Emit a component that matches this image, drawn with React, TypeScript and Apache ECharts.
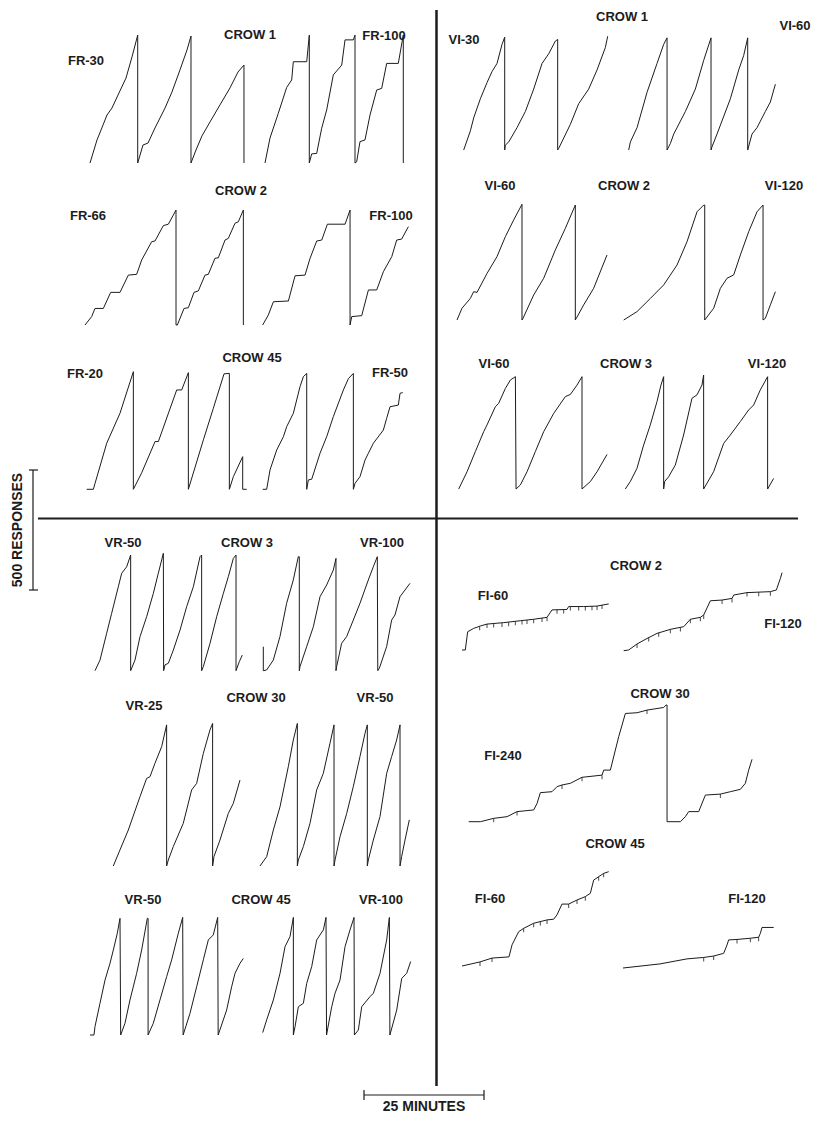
import React, { useEffect, useRef } from "react";
import * as echarts from "echarts";

// Cumulative records: [minutes, cumulative responses since last pen reset]
const crow1FR30: [number, number][] = [[0,0],[1.46,96],[2.71,158],[3.54,200],[4.58,229],[5.83,283],[7.5,354],[8.75,442],[9.94,533],[9.94,0],[11.04,75],[12.08,83],[13.54,146],[15.63,229],[17.08,296],[18.75,388],[20.21,471],[21.04,529],[21.04,0],[22.08,54],[23.33,113],[25,171],[27.08,242],[29.17,313],[30.83,379],[32.08,408],[32.08,0]];
const crow1FR100: [number, number][] = [[0,0],[1.04,104],[2.77,207],[4.52,315],[5.56,346],[5.9,422],[8.69,422],[9.23,533],[9.23,0],[9.73,38],[10.77,40],[11.81,145],[12.85,221],[14.23,367],[15.98,408],[16.67,513],[18.4,513],[18.75,533],[18.75,0],[19.1,5],[19.79,89],[20.83,96],[21.88,200],[23.27,304],[24.31,311],[25.35,415],[27.77,415],[28.81,533],[28.81,0]];
const crow2FR66: [number, number][] = [[0,0],[1.39,35],[2.08,69],[3.82,69],[5.35,136],[7.29,136],[9.03,208],[10.76,211],[11.81,271],[13.89,347],[14.58,350],[16.32,414],[17.36,420],[18.4,458],[18.96,479],[18.96,0],[19.24,0],[20.63,69],[21.53,72],[22.71,136],[23.61,142],[25,208],[25.69,211],[27.08,278],[27.78,280],[29.17,354],[29.86,361],[31.25,424],[31.94,430],[32.99,479],[32.99,0]];
const crow2FR100: [number, number][] = [[0,0],[1.18,42],[2.23,97],[5.35,100],[6.74,205],[8.82,208],[9.87,278],[11.25,350],[12.3,354],[13.48,420],[17.16,420],[18.2,479],[18.2,0],[18.55,35],[20.63,39],[22.02,146],[23.75,146],[25.14,222],[26.89,285],[27.92,354],[28.96,358],[30.35,410]];
const crow45FR20: [number, number][] = [[0,0],[1.39,0],[1.74,25],[4.17,192],[6.94,317],[9.72,490],[9.72,0],[11.46,69],[14.24,199],[14.93,199],[18.75,414],[19.79,414],[21.18,486],[21.18,0],[24.31,206],[26.39,338],[28.61,481],[29.72,483],[29.72,0],[30.56,53],[32.5,136],[32.5,0],[33.33,0]];
const crow45FR50: [number, number][] = [[0,0],[0.83,0],[1.53,81],[2.92,164],[4.31,219],[5,261],[6.39,317],[7.78,428],[8.47,469],[9.17,483],[9.17,0],[9.51,39],[10.21,42],[11.94,150],[13.33,219],[14.72,303],[16.81,414],[17.85,461],[18.89,483],[18.89,0],[19.24,25],[20.28,53],[21.32,122],[22.01,150],[23.06,192],[25.14,247],[25.83,296],[26.53,344],[28.26,351],[28.61,400],[29.17,403]];
const crow1VI30: [number, number][] = [[0,0],[1.39,83],[2.08,139],[3.47,222],[4.86,292],[5.9,340],[6.94,375],[7.99,458],[8.54,489],[8.54,0],[8.68,21],[9.38,35],[11.11,97],[12.85,167],[14.58,264],[16.32,375],[17.71,417],[19.1,472],[19.58,479],[19.58,0],[19.79,7],[22.22,111],[23.96,201],[26.04,264],[27.78,347],[29.51,444],[30,493]];
const crow1VI60: [number, number][] = [[0,0],[0.35,35],[1.74,97],[3.82,250],[5.9,375],[7.29,458],[7.99,486],[7.99,0],[8.68,28],[9.38,69],[11.81,167],[13.89,264],[15.63,389],[17.15,486],[17.15,0],[17.36,14],[18.4,69],[21.18,222],[22.92,347],[23.96,410],[24.79,486],[24.79,0],[25.69,69],[26.74,97],[28.47,167],[29.51,208],[30.56,285]];
const crow2VI60: [number, number][] = [[0,0],[1.04,49],[2.78,90],[3.47,118],[4.17,115],[6.25,194],[8.33,264],[10.07,347],[11.81,417],[13.54,482],[13.54,0],[13.75,7],[15.97,104],[18.06,174],[20.49,292],[22.57,382],[24.65,479],[24.65,0],[24.86,7],[26.39,63],[28.47,132],[31.25,271]];
const crow2VI120: [number, number][] = [[0,0],[2.78,35],[5.56,90],[8.33,146],[11.11,229],[13.19,326],[15.28,451],[16.67,479],[16.88,479],[16.88,0],[18.75,49],[20.14,132],[21.53,174],[22.92,188],[24.31,271],[26.04,368],[27.78,451],[29.03,479],[29.03,0],[29.51,7],[30.56,63],[31.6,118]];
const crow3VI60: [number, number][] = [[0,0],[1.74,72],[3.47,156],[5.21,239],[5.9,267],[7.64,343],[8.33,357],[9.72,419],[10.76,454],[11.81,468],[11.95,468],[11.95,0],[12.85,17],[14.24,72],[15.97,156],[17.71,239],[19.79,315],[22.22,385],[23.26,394],[24.65,433],[25.69,468],[25.69,0],[27.43,31],[28.82,72],[30.9,144]];
const crow3VI120: [number, number][] = [[0,0],[1.04,31],[2.43,86],[3.82,183],[5.21,267],[6.6,364],[7.43,433],[7.99,468],[7.99,0],[8.19,31],[9.03,51],[10.42,100],[12.15,225],[13.89,378],[14.93,392],[15.97,433],[16.32,475],[16.32,0],[18.4,72],[20.49,190],[21.88,225],[23.96,281],[25.69,329],[26.74,350],[28.13,413],[29.65,468],[29.65,0],[30.9,44]];
const crow3VR50: [number, number][] = [[0,0],[1.04,44],[2.43,156],[3.47,239],[4.86,350],[5.56,406],[6.6,433],[7.43,482],[7.43,0],[8.33,44],[9.38,142],[10.76,225],[12.15,322],[13.19,406],[14.24,489],[14.3,0],[14.58,24],[15.28,31],[16.32,86],[17.71,169],[19.1,267],[20.49,350],[21.88,475],[22.22,482],[22.22,0],[22.57,17],[23.96,114],[25.35,225],[26.74,322],[27.78,392],[28.82,468],[29.38,482],[29.38,0],[30.07,38],[30.69,65]];
const crow3VR100: [number, number][] = [[0,100],[0,0],[0.69,3],[2.08,44],[3.47,142],[4.86,281],[6.25,378],[7.29,475],[7.5,475],[7.5,0],[7.64,17],[9.03,100],[10.42,183],[11.81,308],[13.19,357],[14.58,419],[15.14,468],[15.14,0],[15.28,17],[16.32,114],[17.36,142],[18.75,211],[20.14,281],[21.88,378],[22.92,433],[23.75,475],[23.85,475],[23.85,0],[24.17,10],[25.69,100],[26.74,211],[27.43,232],[28.47,308],[29.51,336],[30.56,364]];
const crow30VR25: [number, number][] = [[0,0],[1.39,67],[3.13,150],[5.56,289],[6.94,365],[7.64,372],[8.68,428],[10.07,497],[11.11,588],[11.11,0],[11.46,25],[12.5,81],[14.58,178],[16.32,317],[17.36,344],[18.75,469],[20.14,567],[20.69,594],[20.69,0],[20.97,39],[22.22,108],[23.96,219],[25,261],[26.39,358]];
const crow30VR50: [number, number][] = [[0,0],[1.39,39],[2.78,150],[4.17,247],[5.9,414],[6.94,525],[7.78,594],[7.78,0],[7.99,25],[9.03,81],[10.42,178],[11.81,317],[13.19,386],[14.58,511],[15.42,588],[15.42,0],[15.63,25],[16.67,122],[18.06,219],[19.44,331],[20.83,456],[21.88,553],[22.36,588],[22.36,0],[22.57,25],[23.61,108],[25,206],[26.39,386],[27.43,456],[28.47,525],[29.17,588],[29.17,0],[29.51,39],[30.21,108],[31.11,192]];
const crow45VR50: [number, number][] = [[0,0],[0.83,0],[1.04,35],[2.08,132],[3.13,229],[4.17,299],[4.86,354],[5.69,424],[6.25,486],[6.39,486],[6.39,0],[7.29,49],[8.33,146],[9.72,257],[10.76,354],[11.94,486],[12.1,486],[12.1,0],[13.19,49],[14.58,146],[15.97,243],[17.01,313],[18.4,424],[19.31,490],[19.4,490],[19.4,0],[20.83,90],[22.22,201],[23.61,313],[24.65,396],[25.69,417],[26.6,490],[26.7,490],[26.7,0],[28.47,104],[29.51,201],[30.21,257],[31.25,299],[31.94,319]];
const crow45VR100: [number, number][] = [[0,10],[0.83,63],[2.22,146],[3.61,257],[4.65,368],[5.69,410],[6.39,490],[6.39,0],[6.74,35],[7.43,118],[8.47,132],[9.17,215],[10.21,285],[11.25,396],[12.64,438],[13.19,490],[13.3,490],[13.3,0],[14.38,118],[15.07,174],[16.11,229],[17.15,368],[18.19,438],[19.03,490],[19.1,490],[19.1,0],[19.93,21],[20.63,118],[22.36,160],[23.06,174],[24.44,257],[25.83,396],[26.39,490],[26.5,490],[26.5,0],[27.92,104],[28.96,236],[30,257],[30.83,306]];
const crow2FI60: [number, number][] = [[0,0],[0.69,0],[1.18,76],[2.43,90],[3.82,100],[5.21,108],[8.68,114],[12.15,122],[14.93,128],[17.71,136],[18.75,167],[21.88,169],[22.22,181],[25.35,181],[28.13,183],[30.56,192]];
const crow2FI120: [number, number][] = [[0,0],[1.04,3],[2.78,28],[4.86,51],[6.94,72],[9.72,89],[12.5,100],[13.89,131],[15.97,139],[16.67,149],[18.06,208],[20.49,211],[22.57,218],[22.92,232],[25.69,242],[30.56,246],[31.81,253],[32.64,301],[32.99,325]];
const crow30FI240: [number, number][] = [[0,0],[2.43,0],[5.21,14],[7.99,21],[10.07,42],[13.54,49],[14.24,76],[14.93,121],[17.36,125],[18.4,146],[19.44,153],[21.18,160],[23.61,185],[27.78,194],[28.13,215],[29.51,215],[31.25,354],[32.64,451],[35.07,454],[37.15,465],[40.63,476],[41.11,486],[41.32,486],[41.32,0],[44.1,0],[45.14,21],[45.83,42],[47.92,42],[49.31,111],[52.43,115],[54.51,125],[56.6,135],[57.64,160],[58.33,215],[59.03,260]];
const crow45FI60: [number, number][] = [[0,0],[3.75,17],[6.25,33],[9.79,38],[10.42,88],[11.81,143],[12.85,157],[14.93,178],[17.71,192],[19.1,195],[19.79,213],[20.83,258],[22.22,258],[23.96,275],[25.69,289],[26.74,303],[27.43,358],[28.47,372],[29.51,386],[30.56,393]];
const crow45FI120: [number, number][] = [[0,0],[7.71,17],[13.33,38],[16.81,44],[18.89,50],[20.97,61],[21.67,96],[22.01,117],[23.75,119],[26.53,124],[28.26,128],[28.61,144],[28.96,169],[31.39,169]];

// Reinforcement pips on the fixed-interval records: [minutes, responses]
const crow2FI60Pips: [number, number][] = [[3.68,99],[5.21,108],[6.6,110],[8.33,113],[9.72,116],[11.11,120],[12.5,123],[13.54,125],[14.93,128],[16.67,133],[17.71,136],[19.79,168],[21.18,169],[22.57,181],[24.31,181],[25.69,181],[27.08,182],[28.13,183],[29.17,187]];
const crow2FI120Pips: [number, number][] = [[2.78,28],[5.21,55],[7.29,75],[9.72,89],[11.81,97],[13.89,131],[15.97,139],[16.67,149],[20.49,211],[22.57,218],[25.69,242],[28.13,244],[30.56,246]];
const crow30FI240Pips: [number, number][] = [[5.21,14],[10.07,42],[19.44,153],[23.61,185],[27.78,194],[37.15,465],[52.43,115]];
const crow45FI60Pips: [number, number][] = [[3.75,17],[6.25,33],[12.85,157],[14.93,178],[16.32,185],[17.71,192],[22.22,258],[23.96,275],[25.69,289],[28.47,372],[29.51,386]];
const crow45FI120Pips: [number, number][] = [[16.81,44],[18.89,50],[23.75,119],[26.53,124],[28.26,128]];

// Layout: pixel origin (start, baseline) of each record and its time span in minutes
const records = [
  { data: crow1FR30, x0: 90, y0: 163, span: 35 },
  { data: crow1FR100, x0: 265, y0: 163, span: 35 },
  { data: crow2FR66, x0: 85, y0: 325, span: 35 },
  { data: crow2FR100, x0: 262.7, y0: 325, span: 35 },
  { data: crow45FR20, x0: 86.7, y0: 489.3, span: 35 },
  { data: crow45FR50, x0: 262.7, y0: 489.3, span: 35 },
  { data: crow1VI30, x0: 463.7, y0: 150, span: 35 },
  { data: crow1VI60, x0: 628.7, y0: 150, span: 35 },
  { data: crow2VI60, x0: 457, y0: 320, span: 35 },
  { data: crow2VI120, x0: 623.7, y0: 320, span: 35 },
  { data: crow3VI60, x0: 458.7, y0: 489, span: 35 },
  { data: crow3VI120, x0: 625.3, y0: 489, span: 35 },
  { data: crow3VR50, x0: 95, y0: 670.7, span: 35 },
  { data: crow3VR100, x0: 263.3, y0: 670.7, span: 35 },
  { data: crow30VR25, x0: 113.3, y0: 866, span: 35 },
  { data: crow30VR50, x0: 260, y0: 866, span: 35 },
  { data: crow45VR50, x0: 90, y0: 1035, span: 35 },
  { data: crow45VR100, x0: 262.7, y0: 1035, span: 35 },
  { data: crow2FI60, x0: 462, y0: 650, span: 35, pips: crow2FI60Pips },
  { data: crow2FI120, x0: 623.7, y0: 650.7, span: 35, pips: crow2FI120Pips },
  { data: crow30FI240, x0: 468.7, y0: 821.7, span: 60, pips: crow30FI240Pips },
  { data: crow45FI60, x0: 462, y0: 966, span: 35, pips: crow45FI60Pips },
  { data: crow45FI120, x0: 623, y0: 968, span: 35, pips: crow45FI120Pips },
];

const labels: { text: string; x: number; y: number }[] = [
  { text: "CROW 1", x: 250, y: 34 }, { text: "FR-30", x: 86, y: 60 }, { text: "FR-100", x: 384, y: 35 },
  { text: "CROW 2", x: 241, y: 190 }, { text: "FR-66", x: 88, y: 215 }, { text: "FR-100", x: 391, y: 215 },
  { text: "CROW 45", x: 252, y: 357 }, { text: "FR-20", x: 85, y: 373 }, { text: "FR-50", x: 390, y: 372 },
  { text: "CROW 1", x: 622, y: 16 }, { text: "VI-30", x: 464, y: 39 }, { text: "VI-60", x: 795, y: 25 },
  { text: "VI-60", x: 500, y: 185 }, { text: "CROW 2", x: 624, y: 185 }, { text: "VI-120", x: 784, y: 185 },
  { text: "VI-60", x: 494, y: 363 }, { text: "CROW 3", x: 626, y: 363 }, { text: "VI-120", x: 767, y: 363 },
  { text: "VR-50", x: 123, y: 542 }, { text: "CROW 3", x: 247, y: 542 }, { text: "VR-100", x: 382, y: 542 },
  { text: "VR-25", x: 144, y: 705 }, { text: "CROW 30", x: 256, y: 697 }, { text: "VR-50", x: 375, y: 697 },
  { text: "VR-50", x: 143, y: 899 }, { text: "CROW 45", x: 261, y: 899 }, { text: "VR-100", x: 381, y: 899 },
  { text: "CROW 2", x: 636, y: 565 }, { text: "FI-60", x: 493, y: 595 }, { text: "FI-120", x: 783, y: 623 },
  { text: "CROW 30", x: 660, y: 693 }, { text: "FI-240", x: 503, y: 755 },
  { text: "CROW 45", x: 615, y: 843 }, { text: "FI-60", x: 490, y: 898 }, { text: "FI-120", x: 747, y: 898 },
];

const PX_PER_MIN = 4.8; // 25 minutes = 120 px
const Y_MAX = 650; // responses
const PX_PER_RESP = 0.24; // 500 responses = 120 px
const FONT = 'bold 13px "Liberation Sans", Arial, sans-serif';
const INK = "#1c1c1c";

export default function App() {
  const ref = useRef<HTMLDivElement>(null);
  useEffect(() => {
    if (!ref.current) return;
    const chart = echarts.init(ref.current, undefined, { renderer: "svg" });
    const H = Y_MAX * PX_PER_RESP;
    const grid = records.map((r) => ({
      left: r.x0, top: r.y0 - H, width: r.span * PX_PER_MIN, height: H, show: false,
    }));
    const xAxis = records.map((r, i) => ({
      type: "value", gridIndex: i, min: 0, max: r.span, show: false,
    }));
    const yAxis = records.map((_, i) => ({
      type: "value", gridIndex: i, min: 0, max: Y_MAX, show: false,
    }));
    const series: any[] = records.map((r, i) => ({
      type: "line", xAxisIndex: i, yAxisIndex: i, data: r.data, showSymbol: false,
      clip: false, silent: true, lineStyle: { color: INK, width: 1 },
    }));
    records.forEach((r: any, i) => {
      if (!r.pips) return;
      series.push({
        type: "scatter", xAxisIndex: i, yAxisIndex: i, data: r.pips, clip: false, silent: true,
        symbol: "rect", symbolSize: [1, 4], symbolOffset: [0, 2],
        itemStyle: { color: INK },
      });
    });
    const textEls = labels.map((l) => ({
      type: "text", x: l.x, y: l.y,
      style: { text: l.text, font: FONT, fill: INK, textAlign: "center", textVerticalAlign: "middle", align: "center", verticalAlign: "middle" },
    }));
    const line = (x1: number, y1: number, x2: number, y2: number, w: number) => ({
      type: "line", shape: { x1, y1, x2, y2 }, style: { stroke: INK, lineWidth: w },
    });
    const elements: any[] = [
      ...textEls,
      line(436.5, 10, 436.5, 1086, 2.5),
      line(38, 518.5, 798, 518.5, 2.2),
      line(33, 470, 33, 590, 1.2),
      line(29, 470, 38, 470, 1.2),
      line(29, 590, 38, 590, 1.2),
      {
        type: "text", x: 17, y: 530, rotation: Math.PI / 2,
        style: { text: "500 RESPONSES", font: 'bold 14px "Liberation Sans", Arial, sans-serif', fill: INK, textAlign: "center", textVerticalAlign: "middle", align: "center", verticalAlign: "middle" },
      },
      line(364, 1095, 484, 1095, 1.2),
      line(364, 1090, 364, 1100, 1.2),
      line(484, 1090, 484, 1100, 1.2),
      {
        type: "text", x: 424, y: 1106,
        style: { text: "25 MINUTES", font: 'bold 14px "Liberation Sans", Arial, sans-serif', fill: INK, textAlign: "center", textVerticalAlign: "middle", align: "center", verticalAlign: "middle" },
      },
    ];
    chart.setOption({
      animation: false,
      backgroundColor: "#ffffff",
      grid, xAxis, yAxis, series,
      graphic: { elements },
    });
    return () => chart.dispose();
  }, []);
  return (
    <div
      ref={ref}
      style={{ position: "absolute", left: 0, top: 0, width: 816, height: 1124, background: "#fff" }}
    />
  );
}
